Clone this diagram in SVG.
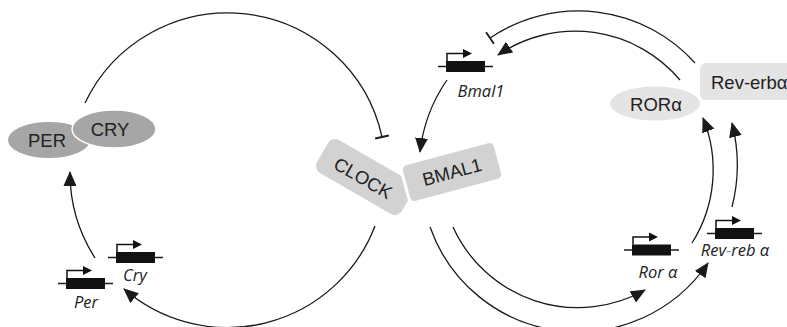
<svg xmlns="http://www.w3.org/2000/svg" width="787" height="327" viewBox="0 0 787 327">
<style>
.ln{fill:none;stroke:#1a1a1a;stroke-width:1.3}
.arr{marker-end:url(#ah)}
.inh{marker-end:url(#tb)}
.big{font-family:"Liberation Sans",Arial,sans-serif;font-size:18.5px;fill:#222}
.gene{font-family:"Open Sans","DejaVu Sans",sans-serif;font-style:italic;font-size:16.5px;fill:#222;text-anchor:middle}
.dark{fill:#a6a6a6}
.mid{fill:#d2d2d2}
.light{fill:#e4e4e4}
</style>
<defs>
<marker id="ah" markerUnits="userSpaceOnUse" markerWidth="15" markerHeight="13" refX="14" refY="6.5" orient="auto">
<path d="M0,0 L15,6.5 L0,13 z" fill="#1a1a1a"/>
</marker>
<marker id="tb" markerUnits="userSpaceOnUse" markerWidth="4" markerHeight="16" refX="2" refY="8" orient="auto">
<path d="M2,1 L2,15" stroke="#1a1a1a" stroke-width="1.8"/>
</marker>
<g id="gsym">
<path d="M-8,0 H47" stroke="#1a1a1a" stroke-width="1.3"/>
<rect x="0" y="-5.5" width="39" height="11" fill="#111"/>
<path d="M1,-5.5 V-13 H19" fill="none" stroke="#111" stroke-width="1.5"/>
<path d="M17,-17.5 L26,-13 L17,-8.5 z" fill="#111"/>
</g>
</defs>

<g id="connectors">
<path class="ln inh" d="M85,103 A158,158 0 0 1 382,137"/>
<path class="ln arr" d="M375,226 A158,158 0 0 1 124,289"/>
<path class="ln arr" d="M95,258 A158,158 0 0 1 70,172"/>
<path class="ln inh" d="M695,63 A157,157 0 0 0 490,38"/>
<path class="ln arr" d="M447,80 A157,157 0 0 0 420,152"/>
<path class="ln arr" d="M430,227 A157,157 0 0 0 708,263"/>
<path class="ln arr" d="M680,80 A137,137 0 0 0 498,55"/>
<path class="ln arr" d="M453,227 A137,137 0 0 0 645,290"/>
<path class="ln arr" d="M692,243 A137,137 0 0 0 703,118"/>
<path class="ln arr" d="M732,207 A170,170 0 0 0 732,123"/>
</g>

<g id="per-cry">
<ellipse class="dark" cx="49" cy="140" rx="41" ry="18"/>
<ellipse class="dark" cx="114" cy="129" rx="42" ry="19" stroke="#fff" stroke-width="1.5"/>
<text class="big" x="47" y="147" text-anchor="middle">PER</text>
<text class="big" x="110" y="136" text-anchor="middle">CRY</text>
</g>

<g id="clock">
<rect class="mid" x="-49" y="-19" width="98" height="38" rx="8" transform="translate(365,177) rotate(30)"/>
<text class="big" x="0" y="6.5" text-anchor="middle" transform="translate(363,178) rotate(30)">CLOCK</text>
</g>

<g id="bmal1">
<rect class="mid" x="-48.5" y="-20" width="97" height="40" rx="6" stroke="#fff" stroke-width="3" transform="translate(452,172) rotate(-15)"/>
<text class="big" x="0" y="6.5" text-anchor="middle" transform="translate(452,172) rotate(-15)">BMAL1</text>
</g>

<g id="ror">
<ellipse class="light" cx="655" cy="103.5" rx="45" ry="17"/>
<text class="big" x="656" y="111" text-anchor="middle">RORα</text>
</g>

<g id="reverb">
<rect class="light" x="700" y="63" width="100" height="37" rx="6"/>
<text class="big" x="711" y="89">Rev-erbα</text>
</g>

<g id="gene-per">
<use href="#gsym" transform="translate(66,283.5)"/>
<text class="gene" x="86" y="308">Per</text>
</g>
<g id="gene-cry">
<use href="#gsym" transform="translate(116,257.5)"/>
<text class="gene" x="135" y="281">Cry</text>
</g>
<g id="gene-bmal1">
<use href="#gsym" transform="translate(446,66.5)"/>
<text class="gene" x="481" y="97">Bmal1</text>
</g>
<g id="gene-ror">
<use href="#gsym" transform="translate(632,250)"/>
<text class="gene" x="658" y="278">Ror α</text>
</g>
<g id="gene-revreb">
<use href="#gsym" transform="translate(715,233.5)"/>
<text class="gene" x="735" y="256">Rev<tspan fill="#5b9bd5">-</tspan>reb α</text>
</g>
</svg>
